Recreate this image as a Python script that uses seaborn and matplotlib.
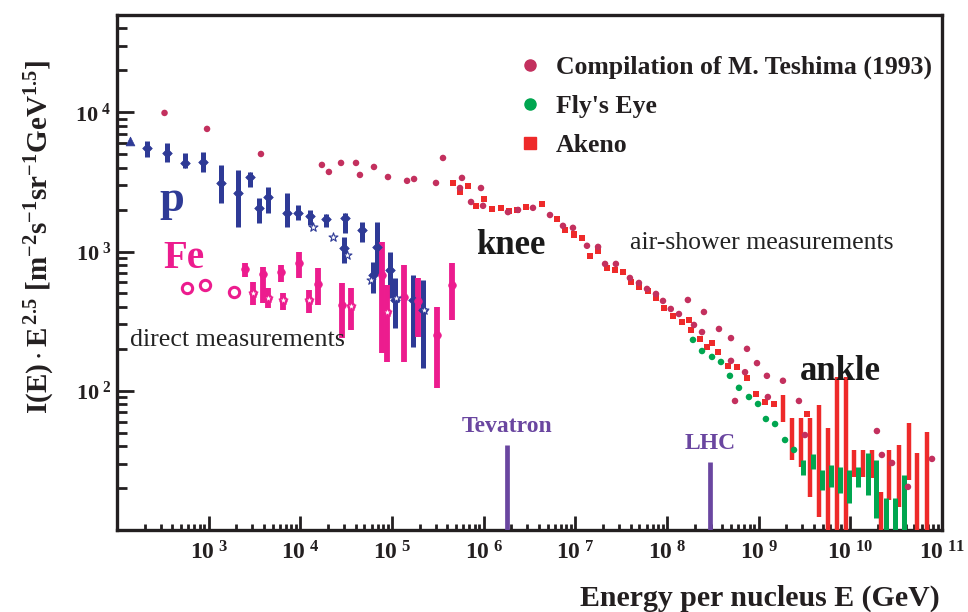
import numpy as np
import pandas as pd
import matplotlib
matplotlib.use("Agg")
import matplotlib.pyplot as plt
import seaborn as sns
from matplotlib.lines import Line2D
from matplotlib.ticker import FixedLocator, FixedFormatter, LogLocator, NullFormatter

# ---------------- data ----------------
teshima_E = [330, 960, 3720, 17200, 20500, 27800, 40500, 44700, 63600, 90400, 1.46e5, 1.74e5,
             3.02e5, 3.60e5, 5.80e5, 5.52e5, 9.35e5, 7.28e5, 9.84e5, 1.84e6, 2.37e6, 3.45e6,
             5.29e6, 7.33e6, 9.42e6, 1.34e7, 1.77e7, 2.11e7, 2.77e7, 3.94e7, 4.94e7, 6.05e7,
             7.58e7, 9.04e7, 1.10e8, 1.35e8, 1.69e8, 1.97e8, 2.41e8, 2.53e8, 3.69e8, 4.99e8,
             4.99e8, 5.52e8, 7.10e8, 7.46e8, 9.59e8, 1.23e9, 1.26e9, 1.84e9, 2.75e9, 3.20e9,
             1.95e10, 2.21e10, 2.85e10, 4.25e10, 7.78e10]
teshima_I = [9900, 7600, 5020, 4190, 3730, 4330, 4330, 3550, 4050, 3430, 3220, 3320,
             3110, 4700, 3380, 2860, 2860, 2270, 2130, 1920, 1990, 2060,
             1830, 1530, 1480, 1100, 1080, 815, 815, 646, 595, 539,
             496, 442, 387, 356, 449, 297, 264, 368, 278, 239,
             164, 84.5, 136, 200, 158, 128, 90.2, 118, 84.5, 48.1,
             51.4, 34.6, 30.3, 20.4, 32.4]

akeno_E = [4.62e5, 5.52e5, 6.75e5, 8.24e5, 1.01e6, 1.23e6, 1.55e6, 1.89e6, 2.31e6, 2.90e6,
           4.33e6, 6.31e6, 7.71e6, 9.66e6, 1.18e7, 1.45e7, 1.77e7, 2.21e7, 2.71e7, 3.31e7,
           4.05e7, 4.94e7, 6.21e7, 7.58e7, 9.27e7, 1.16e8, 1.46e8, 1.74e8, 1.83e8, 2.29e8,
           2.73e8, 3.10e8, 3.60e8, 4.62e8, 5.80e8, 7.46e8, 9.35e8, 1.17e9, 1.47e9, 3.37e9]
akeno_I = [3110, 2680, 2960, 2130, 2390, 2020, 2060, 1960, 1990, 2090,
           2200, 1710, 1430, 1320, 1250, 929, 1010, 763, 738, 713,
           605, 557, 521, 464, 394, 345, 312, 323, 273, 236,
           206, 220, 190, 151, 148, 124, 94.8, 83.1, 80.4, 68.1]
akeno_bar_E = [1.84e9, 2.31e9, 2.90e9, 3.63e9, 4.55e9, 5.71e9, 7.18e9, 8.99e9, 1.10e10,
               1.37e10, 1.72e10, 2.16e10, 2.64e10, 3.40e10, 4.36e10, 5.33e10, 6.86e10]
akeno_bar_lo = [59.7, 31.8, 28.4, 17.3, 12.4, 9.5, 9.5, 9.5, 24.0, 24.0, 23.6, 9.5, 16.4,
                14.6, 22.9, 9.5, 9.5]
akeno_bar_hi = [93.3, 63.8, 63.8, 63.8, 79.1, 54.0, 126, 126, 37.6, 37.6, 37.6, 18.7, 37.6,
                40.8, 58.7, 35.7, 50.6]

fly_E = [1.92e8, 2.41e8, 3.10e8, 3.88e8, 4.86e8, 6.10e8, 7.84e8, 9.84e8, 1.20e9, 1.51e9,
         1.94e9, 2.43e9]
fly_I = [232, 193, 175, 161, 128, 105, 90.2, 80.4, 62.7, 57.7, 44.3, 37.6]
flybar_E = [3.04e9, 3.91e9, 4.91e9, 6.15e9, 7.71e9, 9.66e9, 1.21e10, 1.56e10, 1.90e10,
            2.45e10, 3.07e10, 3.85e10]
flybar_lo = [24.8, 27.4, 19.4, 20.4, 18.5, 15.6, 20.4, 17.8, 12.2, 9.5, 9.5, 9.5]
flybar_hi = [31.8, 35.2, 27.0, 29.3, 28.4, 27.0, 28.4, 35.7, 31.8, 17.0, 17.0, 24.8]

p_tri_E = [139]
p_tri_I = [6230]
p_E = [212, 351, 552, 867, 1360, 2090, 2820, 3540, 4440, 7150, 9420, 12700, 19100, 30700,
       30000, 47100, 68500, 62100, 95100, 1.08e5, 1.69e5, 2.18e5]
p_I = [5550, 5110, 4330, 4400, 3110, 2640, 3440, 2060, 2470, 1890, 1890, 1800, 1710, 1740,
       1060, 1430, 1080, 679, 738, 449, 449, 380]
p_hi = [6230, 6030, 5110, 5200, 4190, 3860, 3730, 2430, 2910, 2640, 2160, 1990, 1860, 1890,
        1270, 1630, 1630, 842, 993, 646, 679, 625]
p_lo = [4780, 4400, 3990, 3730, 2230, 1500, 2910, 1600, 1890, 1500, 1690, 1550, 1500, 1360,
        828, 1170, 679, 505, 464, 283, 206, 146]
pstar_E = [13700, 22700, 32300, 59000, 1.11e5, 2.23e5]
pstar_I = [1500, 1270, 946, 625, 464, 380]

fe_circ_E = [580, 912, 1890]
fe_circ_I = [548, 575, 513]
fe_E = [2490, 3050, 3910, 4440, 6150, 6470, 9670, 12400, 15600, 28500, 35700, 77800, 88100,
        1.35e5, 1.92e5, 3.10e5, 4.51e5]
fe_I = [750, 505, 690, 464, 713, 449, 828, 449, 585, 413, 407, 679, 368, 472, 442, 252, 575]
fe_hi = [828, 605, 775, 548, 801, 505, 993, 530, 763, 595, 548, 1170, 575, 801, 646, 400, 828]
fe_lo = [657, 413, 427, 394, 605, 380, 646, 362, 413, 239, 273, 187, 161, 161, 244, 105, 323]
fe_star_E = [3050, 4440, 6470, 12400, 35700, 88100]
fe_star_I = [505, 464, 449, 449, 407, 368]

acc_names = ["Tevatron", "LHC"]
acc_E = [1.8e6, 2.94e8]
acc_I = [40.8, 30.8]

legend_labels = ["Compilation of M. Teshima (1993)", "Fly's Eye", "Akeno"]
x_ticks = [1e3, 1e4, 1e5, 1e6, 1e7, 1e8, 1e9, 1e10, 1e11]
x_ticklabels = [r"$\mathregular{10^{\ %d}}$" % k for k in range(3, 12)]
y_ticks = [1e2, 1e3, 1e4]
y_ticklabels = [r"$\mathregular{10^{\ 2}}$", r"$\mathregular{10^{\ 3}}$", r"$\mathregular{10^{\ 4}}$"]

# ---------------- style ----------------
C_TESH = "#c3305e"
C_FLY = "#00a650"
C_AKENO = "#ee2a2a"
C_P = "#2e3a96"
C_FE = "#ec1c8e"
C_ACC = "#6a46a0"
C_INK = "#231f20"

sns.set_theme(style="white")
plt.rcParams["font.family"] = ["Liberation Serif", "DejaVu Serif"]
plt.rcParams["mathtext.fontset"] = "custom"
plt.rcParams["mathtext.rm"] = "Liberation Serif:bold"
plt.rcParams["mathtext.bf"] = "Liberation Serif:bold"
plt.rcParams["mathtext.it"] = "Liberation Serif:italic:bold"

W, H = 968, 612
fig = plt.figure(figsize=(W / 100, H / 100), dpi=100)
ax = fig.add_axes([117 / W, (H - 530) / H, 825 / W, 515 / H])
ax.set_xscale("log")
ax.set_yscale("log")
ax.set_xlim(1e2, 1e11)
ax.set_ylim(10, 5e4)

ymin = 9.0

# accelerator bars
ax.vlines(acc_E, ymin, acc_I, color=C_ACC, lw=3.4, zorder=3)
for name, e, i in zip(acc_names, acc_E, acc_I):
    ax.text(e, i * 1.14, name, color=C_ACC, fontsize=17, fontweight="bold",
            ha="center", va="bottom", zorder=6)

# direct measurements: error bars
ax.vlines(p_E, p_lo, p_hi, color=C_P, lw=3.6, zorder=3)
ax.vlines(fe_E, fe_lo, fe_hi, color=C_FE, lw=4.2, zorder=3)

sns.scatterplot(x=p_E, y=p_I, ax=ax, marker="D", s=24, color=C_P, edgecolor=C_P,
                linewidth=0.5, zorder=4, legend=False)
sns.scatterplot(x=p_tri_E, y=p_tri_I, ax=ax, marker="^", s=40, color=C_P, edgecolor=C_P,
                linewidth=0.5, zorder=4, legend=False, clip_on=False)
sns.scatterplot(x=pstar_E, y=pstar_I, ax=ax, marker="*", s=45, color="white", edgecolor=C_P,
                linewidth=0.8, zorder=5, legend=False)
sns.scatterplot(x=fe_E, y=fe_I, ax=ax, marker="o", s=30, color=C_FE, edgecolor=C_FE,
                linewidth=0.5, zorder=4, legend=False)
sns.scatterplot(x=fe_star_E, y=fe_star_I, ax=ax, marker="*", s=45, color="white", edgecolor=C_FE,
                linewidth=0.8, zorder=5, legend=False)
sns.scatterplot(x=fe_circ_E, y=fe_circ_I, ax=ax, marker="o", s=55, color="white", edgecolor=C_FE,
                linewidth=2.2, zorder=4, legend=False)

# air shower measurements
ax.vlines(akeno_bar_E, akeno_bar_lo, akeno_bar_hi, color=C_AKENO, lw=3.2, zorder=3)
ax.vlines(flybar_E, flybar_lo, flybar_hi, color=C_FLY, lw=3.6, zorder=4)
sns.scatterplot(x=akeno_E, y=akeno_I, ax=ax, marker="s", s=22, color=C_AKENO, edgecolor="none",
                zorder=4, legend=False)
sns.scatterplot(x=fly_E, y=fly_I, ax=ax, marker="o", s=22, color=C_FLY, edgecolor="none",
                zorder=4, legend=False)
sns.scatterplot(x=teshima_E, y=teshima_I, ax=ax, marker="o", s=22, color=C_TESH, edgecolor="none",
                zorder=5, legend=False)

# ---------------- axes styling ----------------
for sp in ax.spines.values():
    sp.set_linewidth(2.4)
    sp.set_color(C_INK)
    sp.set_visible(True)

ax.xaxis.set_major_locator(FixedLocator(x_ticks))
ax.xaxis.set_major_formatter(FixedFormatter(x_ticklabels))
ax.xaxis.set_minor_locator(LogLocator(base=10, subs=np.arange(2, 10), numticks=100))
ax.xaxis.set_minor_formatter(NullFormatter())
ax.yaxis.set_major_locator(FixedLocator(y_ticks))
ax.yaxis.set_major_formatter(FixedFormatter(y_ticklabels))
ax.yaxis.set_minor_locator(LogLocator(base=10, subs=np.arange(2, 10), numticks=100))
ax.yaxis.set_minor_formatter(NullFormatter())

ax.tick_params(which="both", direction="in", top=False, right=False, color=C_INK,
               width=2.0, bottom=True, left=True)
ax.tick_params(axis="x", which="major", length=10, pad=8, labelsize=17, labelcolor=C_INK)
ax.tick_params(axis="x", which="minor", length=4.5)
ax.tick_params(axis="y", which="major", length=12, pad=4, labelsize=16, labelcolor=C_INK)
ax.tick_params(axis="y", which="minor", length=7)
for lab in ax.get_xticklabels() + ax.get_yticklabels():
    lab.set_fontweight("bold")

ax.set_xlabel("")
ax.set_ylabel("")
fig.text(940 / W, 1 - 598 / H, "Energy per nucleus E (GeV)", ha="right", va="center",
         fontsize=21.5, fontweight="bold", color=C_INK)
fig.text(40 / W, 1 - 237 / H,
         r"$\mathregular{I(E)\cdot E^{\,2.5}\ [m^{-2}s^{-1}sr^{-1}GeV^{1.5}]}$",
         rotation=90, ha="center", va="center", fontsize=21, fontweight="bold", color=C_INK)

# annotations
def axfrac(px, py):
    return ((px - 117) / 825, (530 - py) / 515)

ax.text(*axfrac(172, 200), "p", transform=ax.transAxes, ha="center", va="center",
        fontsize=32, fontweight="bold", color=C_P)
ax.text(*axfrac(184, 258), "Fe", transform=ax.transAxes, ha="center", va="center",
        fontsize=28, fontweight="bold", color=C_FE)
ax.text(*axfrac(511, 245), "knee", transform=ax.transAxes, ha="center", va="center",
        fontsize=25, fontweight="bold", color="#1a1a1a")
ax.text(*axfrac(840, 372), "ankle", transform=ax.transAxes, ha="center", va="center",
        fontsize=25, fontweight="bold", color="#1a1a1a")
ax.text(*axfrac(630, 243), "air-shower measurements", transform=ax.transAxes, ha="left",
        va="center", fontsize=18.5, color="#222222")
ax.text(*axfrac(130, 340), "direct measurements", transform=ax.transAxes, ha="left",
        va="center", fontsize=18.7, color="#222222")

handles = [
    Line2D([], [], marker="o", ls="", color=C_TESH, markersize=8),
    Line2D([], [], marker="o", ls="", color=C_FLY, markersize=8),
    Line2D([], [], marker="s", ls="", color=C_AKENO, markersize=8),
]
leg = ax.legend(handles=handles, labels=legend_labels, loc="upper left",
                bbox_to_anchor=(517 / W, 1 - 56 / H), bbox_transform=fig.transFigure,
                frameon=False, handlelength=1.0, handletextpad=0.52, labelspacing=0.62,
                borderpad=0, borderaxespad=0,
                prop={"family": "Liberation Serif", "weight": "bold", "size": 18.5})
for t in leg.get_texts():
    t.set_color(C_INK)

fig.savefig("out.png", dpi=100)
